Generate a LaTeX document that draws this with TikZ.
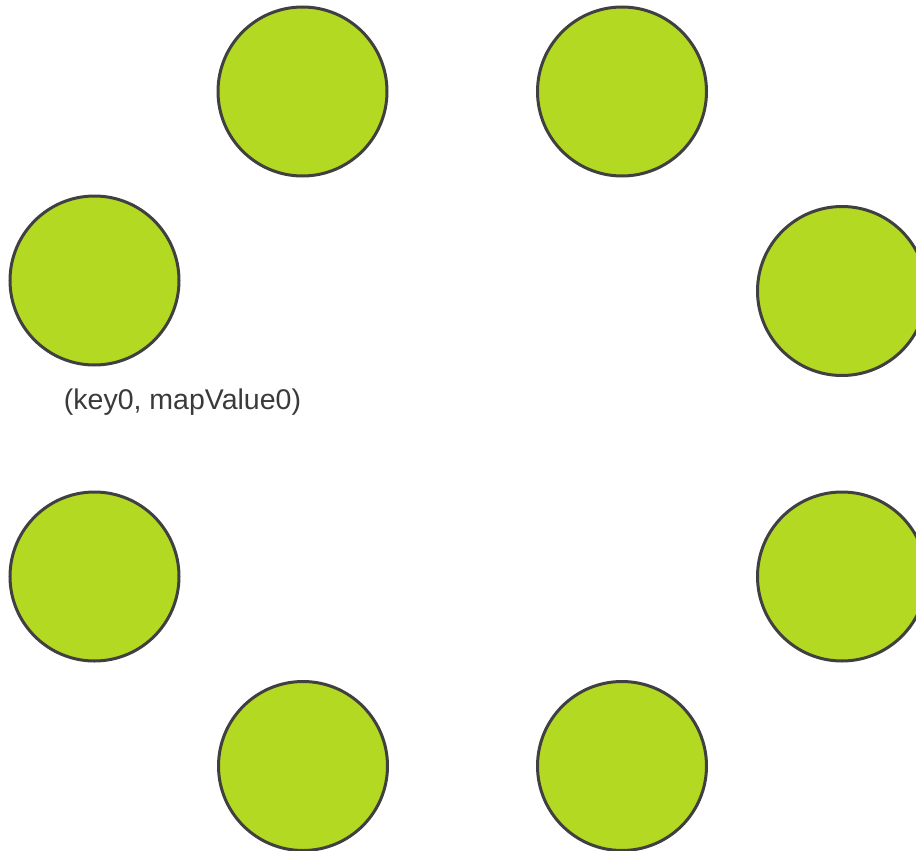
\documentclass[tikz,border=0pt]{standalone}
\usepackage{fontspec}
\setmainfont{Liberation Sans}
\usepackage{tikz}
\usetikzlibrary{positioning}
\definecolor{NodeGreen}{HTML}{B3D923}
\definecolor{EdgeGray}{HTML}{404040}
\definecolor{TextGray}{HTML}{3A3A3A}
\tikzset{
  entrada/.style = {draw=EdgeGray, circle, fill=NodeGreen, line width=3pt,
                    minimum size=169pt, inner sep=0pt},
  etiqueta/.style = {font=\fontsize{28.5}{34}\selectfont, text=TextGray, inner sep=0pt},
}
\begin{document}
\begin{tikzpicture}[x=1pt, y=-1pt]
  \useasboundingbox (0,0) rectangle (916,851);
  \foreach \i/\px/\py in {0/94.5/280.5, 1/302.5/91.5, 2/622/91.5, 3/842/291,
                          4/842/576.5, 5/622/766, 6/303/766, 7/94.5/576.5}
    \node[entrada] (e\i) at (\px,\py) {};
  \node[etiqueta] (lbl0) at (182.5,402) {(key0, mapValue0)};
\end{tikzpicture}
\end{document}
